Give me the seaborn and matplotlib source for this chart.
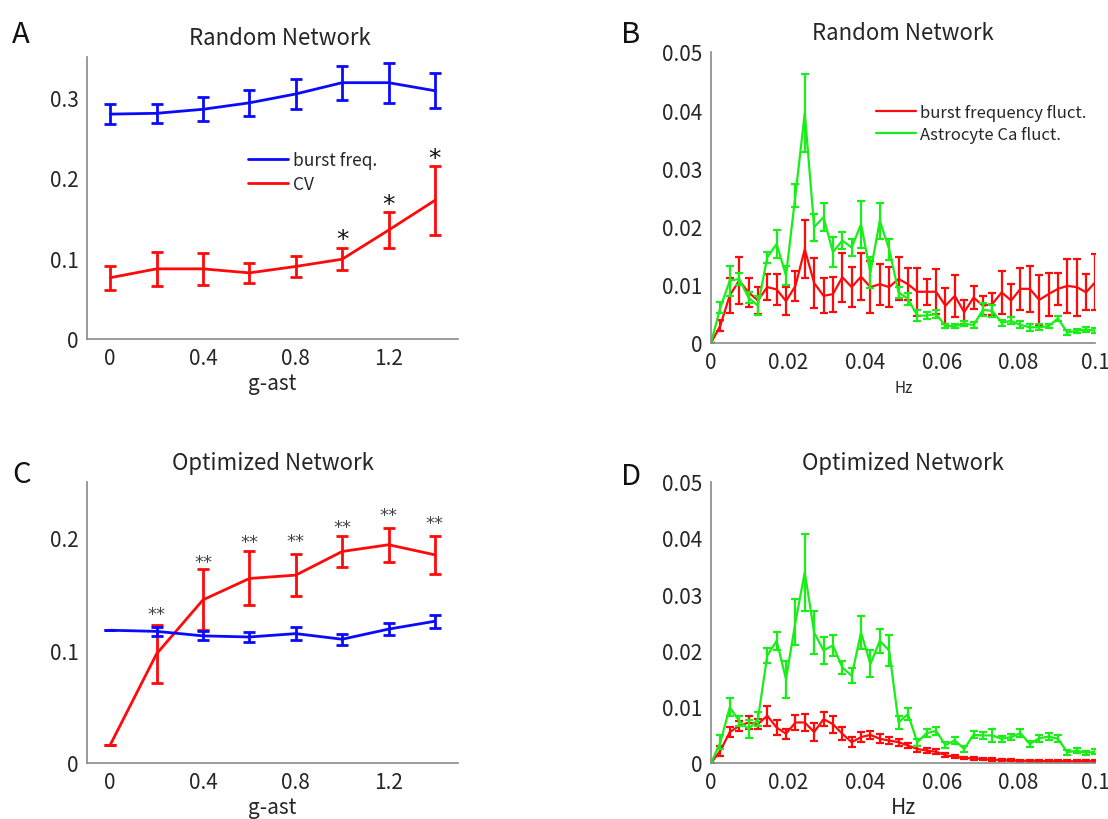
import numpy as np
import pandas as pd
import matplotlib
matplotlib.use("Agg")
import matplotlib.pyplot as plt
import seaborn as sns

# ---------------- data ----------------
g_ast = [0.0, 0.2, 0.4, 0.6, 0.8, 1.0, 1.2, 1.4]

# Panel A (Random Network)
a_burst = [0.279, 0.280, 0.285, 0.293, 0.304, 0.318, 0.318, 0.308]
a_burst_err = [0.012, 0.012, 0.015, 0.016, 0.019, 0.021, 0.025, 0.022]
a_cv = [0.076, 0.087, 0.087, 0.082, 0.090, 0.099, 0.135, 0.172]
a_cv_err = [0.015, 0.021, 0.020, 0.012, 0.013, 0.014, 0.022, 0.043]
a_star_x = [1.0, 1.2, 1.4]
a_star_y = [0.124, 0.167, 0.225]

# Panel C (Optimized Network)
c_burst = [0.118, 0.117, 0.113, 0.112, 0.115, 0.110, 0.119, 0.126]
c_burst_err = [0.0, 0.004, 0.004, 0.0045, 0.006, 0.0047, 0.005, 0.0056]
c_cv = [0.016, 0.097, 0.145, 0.164, 0.167, 0.188, 0.194, 0.185]
c_cv_err = [0.0, 0.0256, 0.027, 0.024, 0.019, 0.014, 0.015, 0.017]
c_star_x = [0.2, 0.4, 0.6, 0.8, 1.0, 1.2, 1.4]
c_star_y = [0.132, 0.179, 0.196, 0.197, 0.210, 0.220, 0.213]

# Frequencies (Hz) for panels B and D
freq = [0.0, 0.00244, 0.00488, 0.00732, 0.00976, 0.0122, 0.01463, 0.01707,
        0.01951, 0.02195, 0.02439, 0.02683, 0.02927, 0.03171, 0.03415,
        0.03659, 0.03902, 0.04146, 0.0439, 0.04634, 0.04878, 0.05122,
        0.05366, 0.0561, 0.05854, 0.06098, 0.06341, 0.06585, 0.06829,
        0.07073, 0.07317, 0.07561, 0.07805, 0.08049, 0.08293, 0.08537,
        0.0878, 0.09024, 0.09268, 0.09512, 0.09756, 0.1]

# Panel B (Random Network spectra)
b_burst = [0.0, 0.003, 0.0082, 0.0107, 0.0087, 0.0073, 0.0096, 0.0092,
           0.0072, 0.0098, 0.0161, 0.0103, 0.0081, 0.0084, 0.0113, 0.0096,
           0.0114, 0.0096, 0.0101, 0.0096, 0.0110, 0.0101, 0.0088, 0.0088,
           0.0088, 0.0064, 0.0081, 0.0053, 0.0078, 0.0064, 0.0067, 0.0087,
           0.0073, 0.0093, 0.0093, 0.0074, 0.0084, 0.0093, 0.0098, 0.0096,
           0.0087, 0.0105]
b_burst_err = [0.0, 0.001, 0.003, 0.004, 0.0025, 0.0024, 0.0023, 0.0026,
               0.0024, 0.0026, 0.005, 0.0043, 0.003, 0.003, 0.0042, 0.0035,
               0.0041, 0.0044, 0.0035, 0.0035, 0.0037, 0.0027, 0.0041, 0.0022,
               0.0039, 0.0031, 0.0036, 0.002, 0.002, 0.0016, 0.0019, 0.0037,
               0.0029, 0.0036, 0.0039, 0.0043, 0.0037, 0.0027, 0.0046, 0.0049,
               0.0031, 0.0048]
b_astro = [0.0, 0.0061, 0.0107, 0.011, 0.0078, 0.0064, 0.0147, 0.017,
           0.0116, 0.0253, 0.0395, 0.0199, 0.0216, 0.0156, 0.0176, 0.0164,
           0.0204, 0.0121, 0.021, 0.0161, 0.0087, 0.0076, 0.0047, 0.0047,
           0.005, 0.0029, 0.0029, 0.0033, 0.0031, 0.0057, 0.0055, 0.0035,
           0.0038, 0.0031, 0.0027, 0.0027, 0.0029, 0.0042, 0.0018, 0.0021,
           0.0023, 0.0021]
b_astro_err = [0.0, 0.0009, 0.0026, 0.0011, 0.001, 0.0016, 0.001, 0.0024,
               0.0017, 0.002, 0.0067, 0.0023, 0.0024, 0.0026, 0.0014, 0.0014,
               0.004, 0.0026, 0.0031, 0.0018, 0.001, 0.001, 0.0009, 0.0006,
               0.0007, 0.0004, 0.0004, 0.0004, 0.0005, 0.0011, 0.001, 0.0005,
               0.0006, 0.0006, 0.0006, 0.0005, 0.0004, 0.0005, 0.0004, 0.0003,
               0.0004, 0.0004]

# Panel D (Optimized Network spectra)
d_burst = [0.0, 0.0022, 0.0055, 0.0066, 0.0072, 0.0069, 0.0084, 0.0063,
           0.0052, 0.0072, 0.0072, 0.0055, 0.0078, 0.0069, 0.0052, 0.0037,
           0.0046, 0.005, 0.0043, 0.004, 0.0037, 0.0031, 0.0025, 0.0022,
           0.002, 0.0014, 0.0011, 0.0009, 0.0008, 0.0007, 0.0006, 0.0005,
           0.0005, 0.0004, 0.0004, 0.0004, 0.0003, 0.0003, 0.0003, 0.0003,
           0.0003, 0.0003]
d_burst_err = [0.0, 0.0009, 0.0009, 0.0009, 0.0011, 0.0009, 0.0018, 0.0013,
               0.0009, 0.0014, 0.0015, 0.0016, 0.0013, 0.0015, 0.0012, 0.0009,
               0.0009, 0.0007, 0.0008, 0.0006, 0.0006, 0.0005, 0.0005, 0.0004,
               0.0004, 0.0003, 0.0003, 0.0002, 0.0002, 0.0002, 0.0002, 0.0002,
               0.0002, 0.0002, 0.0002, 0.0002, 0.0002, 0.0002, 0.0002, 0.0002,
               0.0002, 0.0002]
d_astro = [0.0, 0.0037, 0.0099, 0.0075, 0.006, 0.0078, 0.0191, 0.0217,
           0.0149, 0.025, 0.0339, 0.0232, 0.02, 0.0209, 0.017, 0.0155,
           0.0232, 0.0176, 0.0217, 0.02, 0.0072, 0.0087, 0.0037, 0.0053,
           0.0057, 0.0032, 0.004, 0.0025, 0.005, 0.0049, 0.0049, 0.0043,
           0.0046, 0.0053, 0.0034, 0.0044, 0.0047, 0.0043, 0.0019, 0.0022,
           0.0018, 0.002]
d_astro_err = [0.0, 0.0012, 0.0016, 0.0009, 0.0016, 0.0013, 0.0013, 0.0016,
               0.0033, 0.0041, 0.0068, 0.0039, 0.0024, 0.0018, 0.0012, 0.0013,
               0.003, 0.0024, 0.0022, 0.0027, 0.0012, 0.001, 0.0006, 0.0007,
               0.0007, 0.0005, 0.0006, 0.0005, 0.0006, 0.0006, 0.0012, 0.0005,
               0.0005, 0.0007, 0.0005, 0.0006, 0.0006, 0.0006, 0.0004, 0.0004,
               0.0004, 0.0004]

# ---------------- style ----------------
sns.set_style("white")
plt.rcParams['font.family'] = ['Noto Sans CJK JP', 'DejaVu Sans']
plt.rcParams['axes.unicode_minus'] = False

BLUE = '#0a0aff'
RED = '#ff0a0a'
GREEN = '#19ee19'
SPINE = '#8a8a8a'
TXT = '#262626'

fig = plt.figure(figsize=(11.08, 8.2), dpi=100)

axA = fig.add_axes([0.0785, 0.5854, 0.335, 0.344])
axB = fig.add_axes([0.6417, 0.5805, 0.347, 0.355])
axC = fig.add_axes([0.0785, 0.0683, 0.335, 0.343])
axD = fig.add_axes([0.6417, 0.0683, 0.347, 0.343])


def style_axes(ax):
    sns.despine(ax=ax)
    for s in ['left', 'bottom']:
        ax.spines[s].set_color(SPINE)
        ax.spines[s].set_linewidth(1.2)
    ax.tick_params(direction='in', length=4, width=1, color=SPINE,
                   labelsize=15, labelcolor=TXT, pad=6)


def series(ax, x, y, err, color, label, lw, cap):
    df = pd.DataFrame({'x': x, 'y': y})
    sns.lineplot(data=df, x='x', y='y', ax=ax, color=color, lw=lw,
                 label=label, sort=False)
    ax.errorbar(x, y, yerr=err, fmt='none', ecolor=color, elinewidth=lw,
                capsize=cap, capthick=lw)


# Panel A
series(axA, g_ast, a_burst, a_burst_err, BLUE, 'burst freq.', 2.0, 4)
series(axA, g_ast, a_cv, a_cv_err, RED, 'CV', 2.0, 4)
axA.set_xlim(-0.1, 1.5)
axA.set_ylim(0, 0.35)
axA.set_xticks([0, 0.4, 0.8, 1.2])
axA.set_xticklabels(['0', '0.4', '0.8', '1.2'])
axA.set_yticks([0, 0.1, 0.2, 0.3])
axA.set_yticklabels(['0', '0.1', '0.2', '0.3'])
for xs, ys in zip(a_star_x, a_star_y):
    axA.text(xs, ys, '*', ha='center', va='center', fontsize=18,
             color='#111111', family='DejaVu Sans')
axA.legend(loc='upper left', bbox_to_anchor=(0.434, 0.665), frameon=False,
           fontsize=12.5, handlelength=2.3, handletextpad=0.3,
           labelspacing=0.35, borderpad=0, borderaxespad=0)
axA.set_xlabel('g-ast', fontsize=15, color=TXT, labelpad=2)
axA.set_ylabel('')
axA.set_title('Random Network', fontsize=16, color=TXT, pad=9, x=0.52)
style_axes(axA)

# Panel C
series(axC, g_ast, c_cv, c_cv_err, RED, 'CV', 2.0, 4)
series(axC, g_ast, c_burst, c_burst_err, BLUE, 'burst freq.', 2.0, 4)
axC.get_legend().remove()
axC.set_xlim(-0.1, 1.5)
axC.set_ylim(0, 0.25)
axC.set_xticks([0, 0.4, 0.8, 1.2])
axC.set_xticklabels(['0', '0.4', '0.8', '1.2'])
axC.set_yticks([0, 0.1, 0.2])
axC.set_yticklabels(['0', '0.1', '0.2'])
for xs, ys in zip(c_star_x, c_star_y):
    axC.text(xs, ys, '**', ha='center', va='center', fontsize=13,
             color='#444444', family='DejaVu Sans')
axC.set_xlabel('g-ast', fontsize=15, color=TXT, labelpad=2)
axC.set_ylabel('')
axC.set_title('Optimized Network', fontsize=16, color=TXT, pad=9)
style_axes(axC)

# Panel B
series(axB, freq, b_burst, b_burst_err, RED, 'burst frequency fluct.', 1.6, 3)
series(axB, freq, b_astro, b_astro_err, GREEN, 'Astrocyte Ca fluct.', 1.6, 3)
axB.set_xlim(0, 0.1)
axB.set_ylim(0, 0.05)
axB.set_xticks([0, 0.02, 0.04, 0.06, 0.08, 0.1])
axB.set_xticklabels(['0', '0.02', '0.04', '0.06', '0.08', '0.1'])
axB.set_yticks([0, 0.01, 0.02, 0.03, 0.04, 0.05])
axB.set_yticklabels(['0', '0.01', '0.02', '0.03', '0.04', '0.05'])
axB.legend(loc='upper left', bbox_to_anchor=(0.43, 0.82), frameon=False,
           fontsize=12, handlelength=2.4, handletextpad=0.2,
           labelspacing=0.3, borderpad=0, borderaxespad=0)
axB.set_xlabel('Hz', fontsize=11, color=TXT, labelpad=4)
axB.set_ylabel('')
axB.set_title('Random Network', fontsize=16, color=TXT, pad=9)
style_axes(axB)

# Panel D
series(axD, freq, d_burst, d_burst_err, RED, 'burst frequency fluct.', 1.6, 3)
series(axD, freq, d_astro, d_astro_err, GREEN, 'Astrocyte Ca fluct.', 1.6, 3)
axD.get_legend().remove()
axD.set_xlim(0, 0.1)
axD.set_ylim(0, 0.05)
axD.set_xticks([0, 0.02, 0.04, 0.06, 0.08, 0.1])
axD.set_xticklabels(['0', '0.02', '0.04', '0.06', '0.08', '0.1'])
axD.set_yticks([0, 0.01, 0.02, 0.03, 0.04, 0.05])
axD.set_yticklabels(['0', '0.01', '0.02', '0.03', '0.04', '0.05'])
axD.set_xlabel('Hz', fontsize=15, color=TXT, labelpad=2)
axD.set_ylabel('')
axD.set_title('Optimized Network', fontsize=16, color=TXT, pad=9)
style_axes(axD)

# Panel letters
for letter, (px, py) in {'A': (12, 20), 'B': (621, 20),
                         'C': (12, 460), 'D': (621, 462)}.items():
    fig.text(px / 1108, 1 - py / 820, letter, ha='left', va='top',
             fontsize=21, color='#111111')

fig.savefig('out.png', dpi=100)
